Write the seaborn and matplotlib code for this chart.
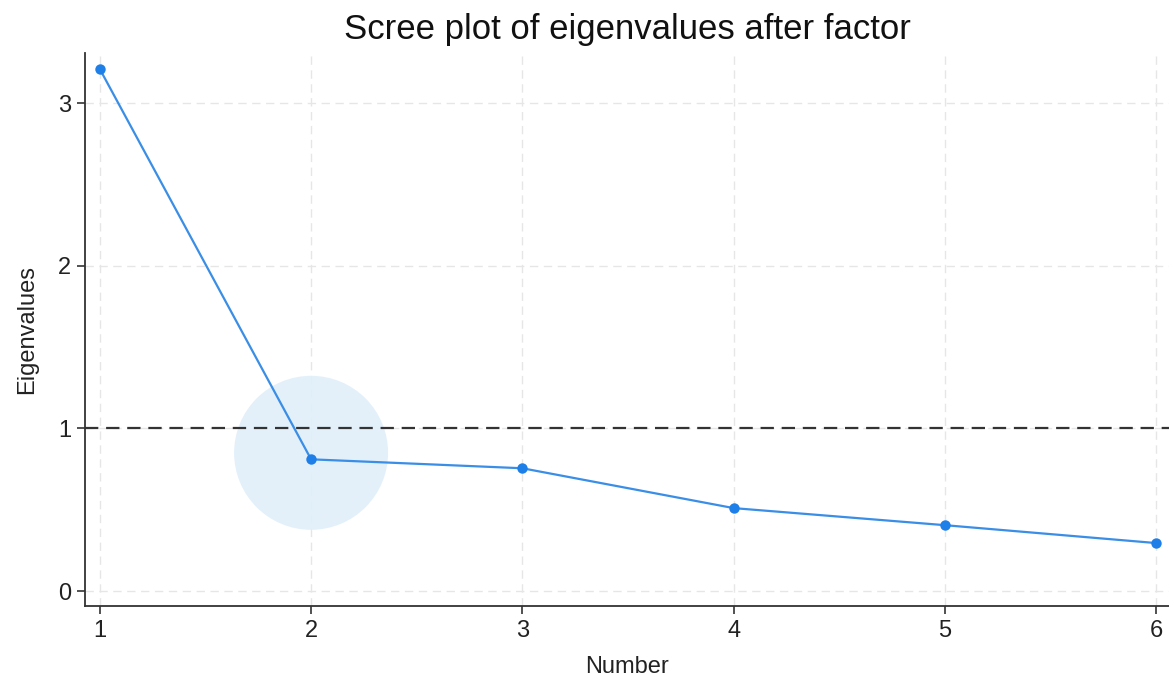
import numpy as np
import pandas as pd
import seaborn as sns
import matplotlib.pyplot as plt

# eigenvalues after factor
factor_number = [1, 2, 3, 4, 5, 6]
eigenvalues = [3.21, 0.81, 0.755, 0.51, 0.405, 0.295]
x_ticks = [1, 2, 3, 4, 5, 6]
y_ticks = [0, 1, 2, 3]
highlight_x = [2]
highlight_y = [0.85]

sns.set_style('white')
plt.rcParams['font.family'] = ['Liberation Sans', 'DejaVu Sans']

df = pd.DataFrame({'Number': factor_number, 'Eigenvalues': eigenvalues})

fig = plt.figure(figsize=(11.69, 6.82), dpi=100)
ax = fig.add_axes([0.0727, 0.1114, 0.9273, 0.8106])

# soft circle around the elbow
ax.scatter(highlight_x, highlight_y, s=12300, color='#e0effa', alpha=0.9,
           edgecolor='none', zorder=1)

ax.axhline(1, color='#333333', linestyle=(0, (6, 3.5)), linewidth=1.6, zorder=2)

sns.lineplot(data=df, x='Number', y='Eigenvalues', ax=ax, color='#3a8ee6',
             linewidth=1.6, marker='o', markersize=7.5, markeredgewidth=0,
             markerfacecolor='#1f7fe8', zorder=3)

ax.set_xlim(0.93, 6.06)
ax.set_ylim(-0.092, 3.307)
ax.set_xticks(x_ticks)
ax.set_yticks(y_ticks)
ax.grid(True, color='#e6e6e6', linestyle=(0, (6, 4)), linewidth=1.0)
ax.set_axisbelow(True)

for side in ['top', 'right']:
    ax.spines[side].set_visible(False)
for side in ['left', 'bottom']:
    ax.spines[side].set_color('#333333')
    ax.spines[side].set_linewidth(1.3)

ax.tick_params(axis='both', direction='out', length=6, width=1.2, color='#333333',
               labelsize=17, labelcolor='#222222', pad=4, bottom=True, left=True)

ax.set_xlabel('Number', fontsize=17, color='#222222', labelpad=10)
ax.set_ylabel('Eigenvalues', fontsize=17, color='#222222', labelpad=14)
ax.set_title('Scree plot of eigenvalues after factor', fontsize=25, color='#111111', pad=10)

fig.savefig('out.png', dpi=100)
